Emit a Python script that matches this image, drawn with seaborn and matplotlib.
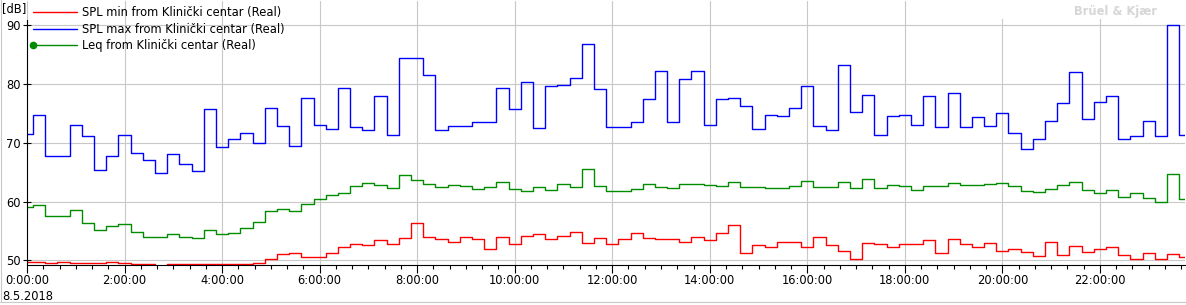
import numpy as np
import pandas as pd
import matplotlib
matplotlib.use("Agg")
import matplotlib.pyplot as plt
from matplotlib.lines import Line2D
from matplotlib.patches import Rectangle
from matplotlib.ticker import FixedLocator, MultipleLocator
import seaborn as sns

# ---------------- data ----------------
SERIES = [
    "SPL min from Klinički centar (Real)",
    "SPL max from Klinički centar (Real)",
    "Leq from Klinički centar (Real)",
]
START_H = -0.125      # first 15-min interval starts 7.5 min before midnight
STEP_H = 0.25         # 15-minute intervals

spl_min = [49.7, 49.7, 49.5, 49.65, 49.5, 49.5, 49.5, 49.65, 49.5, 49.3,
           49.4, 49.0, 49.4, 49.3, 49.4, 49.4, 49.4, 49.4, 49.3, 49.5,
           50.2, 51.0, 51.2, 50.5, 50.5, 51.2, 52.2, 52.7, 52.6, 53.4,
           52.7, 53.75, 56.3, 53.9, 53.6, 53.1, 53.9, 53.6, 51.9, 53.9,
           52.7, 54.1, 54.4, 53.6, 54.1, 54.8, 52.9, 53.75, 52.7, 53.6,
           54.6, 53.75, 53.6, 53.6, 53.1, 53.9, 53.4, 54.6, 56.0, 51.2,
           52.6, 52.2, 53.1, 53.1, 52.2, 53.9, 52.6, 51.6, 50.3, 52.9,
           52.7, 52.2, 52.7, 52.7, 53.4, 51.2, 53.6, 52.7, 52.2, 52.9,
           51.5, 52.0, 51.4, 50.7, 53.1, 50.85, 52.4, 51.4, 52.0, 52.2,
           50.85, 50.3, 51.2, 50.2, 51.0, 50.6]

spl_max = [71.5, 74.7, 67.8, 67.8, 73.0, 71.2, 65.4, 67.8, 71.4, 68.3,
           67.1, 64.9, 68.1, 66.4, 65.2, 75.8, 69.3, 70.6, 71.7, 70.0,
           76.0, 72.9, 69.5, 77.7, 73.1, 72.4, 79.4, 72.7, 72.2, 78.0,
           71.4, 84.4, 84.4, 81.5, 72.2, 72.9, 72.9, 73.6, 73.6, 79.4,
           75.8, 80.3, 72.6, 79.6, 79.9, 81.1, 86.8, 79.1, 72.7, 72.7,
           73.6, 77.4, 82.3, 73.6, 80.9, 82.3, 73.1, 77.4, 77.7, 76.3,
           72.4, 74.8, 74.6, 76.0, 79.7, 72.9, 72.1, 83.2, 75.3, 78.2,
           71.4, 74.6, 74.8, 73.1, 78.0, 72.7, 78.5, 72.7, 74.4, 72.9,
           75.1, 71.7, 69.0, 70.7, 73.8, 76.8, 82.1, 74.1, 77.0, 78.0,
           70.7, 71.2, 73.8, 71.1, 90.1, 71.4]

leq = [59.0, 59.4, 57.5, 57.5, 58.5, 56.3, 55.1, 55.8, 56.1, 54.8,
       53.9, 53.9, 54.4, 53.9, 53.75, 55.1, 54.4, 54.6, 55.5, 56.5,
       58.4, 58.7, 58.4, 59.5, 60.5, 61.1, 61.4, 62.6, 63.1, 62.8,
       62.3, 64.5, 63.7, 63.0, 62.5, 62.8, 62.6, 62.1, 62.5, 63.3,
       62.1, 61.8, 62.5, 62.0, 63.0, 62.5, 65.6, 62.7, 61.8, 61.8,
       62.1, 63.0, 62.5, 62.3, 63.0, 63.0, 62.8, 62.6, 63.3, 62.5,
       62.5, 62.3, 62.3, 62.6, 63.5, 62.4, 62.4, 63.3, 62.3, 63.8,
       62.3, 62.8, 62.6, 61.9, 62.6, 62.6, 63.1, 62.8, 62.8, 63.0,
       63.1, 62.6, 61.8, 61.6, 62.1, 62.8, 63.3, 61.9, 61.4, 61.9,
       60.7, 61.4, 60.6, 59.9, 64.7, 60.4]

X_TICKS = [0, 2, 4, 6, 8, 10, 12, 14, 16, 18, 20, 22]
X_TICK_LABELS = ["0:00:00", "2:00:00", "4:00:00", "6:00:00", "8:00:00",
                 "10:00:00", "12:00:00", "14:00:00", "16:00:00",
                 "18:00:00", "20:00:00", "22:00:00"]
Y_TICKS = [50, 60, 70, 80, 90]
Y_TICK_LABELS = ["50", "60", "70", "80", "90"]
UNIT_LABEL = "[dB]"
DATE_LABEL = "8.5.2018"
BRAND = "Brüel & Kjær"

COLORS = ["#ff0000", "#0000ff", "#008c00"]

# ---------------- style ----------------
sns.set_theme(style="white")
plt.rcParams["font.family"] = ["DejaVu Sans"]

W, H = 1186, 305
fig = plt.figure(figsize=(W / 100, H / 100), dpi=100)
fig.patch.set_facecolor("white")

# axes box in pixels: left 27, right 1185, top 1, bottom 265
ax = fig.add_axes([27 / W, 1 - 265 / H, (1185 - 27) / W, (265 - 1) / H])
ax.set_facecolor("white")

frames = []
for name, vals in zip(SERIES, [spl_min, spl_max, leq]):
    n = len(vals)
    t = START_H + STEP_H * np.arange(n + 1)
    v = list(vals) + [vals[-1]]
    frames.append(pd.DataFrame({"t": t, "dB": v, "series": name}))
df = pd.concat(frames, ignore_index=True)

sns.lineplot(data=df, x="t", y="dB", hue="series", hue_order=SERIES,
             palette=COLORS, drawstyle="steps-post", estimator=None,
             sort=False, legend=False, linewidth=1.0, ax=ax)

Y_BOTTOM = 50 - 4.7 / 5.86
Y_TOP = 90 + 24.3 / 5.86
ax.set_xlim(0, (1185 - 27) / 48.77)
ax.set_ylim(Y_BOTTOM, Y_TOP)
ax.set_xlabel("")
ax.set_ylabel("")

# grid
ax.xaxis.set_major_locator(FixedLocator(X_TICKS))
ax.xaxis.set_minor_locator(MultipleLocator(1 / 3))
ax.set_xticks(X_TICKS)
ax.set_xticklabels(X_TICK_LABELS)
ax.set_yticks(Y_TICKS)
ax.set_yticklabels(Y_TICK_LABELS)
ax.grid(True, which="major", color="#c8c8c8", linewidth=0.8)
ax.set_axisbelow(True)

for s in ["top", "right"]:
    ax.spines[s].set_visible(False)
for s in ["left", "bottom"]:
    ax.spines[s].set_color("black")
    ax.spines[s].set_linewidth(0.8)
ax.spines["left"].set_bounds(Y_BOTTOM, 90 + 5.3 / 5.86)

ax.tick_params(axis="y", which="major", direction="inout", length=6,
               width=0.8, color="black", labelsize=8.3, pad=1.5,
               labelcolor="black", left=True)
ax.tick_params(axis="x", which="major", direction="out", length=6,
               width=0.8, color="black", labelsize=8.3, pad=0.8,
               labelcolor="black", bottom=True)
ax.tick_params(axis="x", which="minor", direction="out", length=3,
               width=0.8, color="black", bottom=True)

# white header strip behind the brand watermark (hides the grid there)
ax.add_patch(Rectangle((990 / W, 1 - 19 / H), (W - 990) / W, 19 / H,
                       transform=fig.transFigure, facecolor="white",
                       edgecolor="none", zorder=1.5))

# legend
handles = [Line2D([], [], color=COLORS[0], lw=1.0),
           Line2D([], [], color=COLORS[1], lw=1.0),
           Line2D([], [], color=COLORS[2], lw=1.0, marker="o", markersize=4.5)]
leg = ax.legend(handles, SERIES, loc="upper left",
                bbox_to_anchor=(33 / W, 1 - 6 / H), bbox_transform=fig.transFigure,
                frameon=False, fontsize=8.3, handlelength=3.8, handletextpad=0.45,
                labelspacing=0.32, borderpad=0, borderaxespad=0, numpoints=1)
leg.get_lines()[2].set_markevery([0])
for txt in leg.get_texts():
    txt.set_color("black")

# text decorations
fig.text(2 / W, 1 - 9 / H, UNIT_LABEL, ha="left", va="center", fontsize=8.3, color="black")
fig.text(2 / W, 1 - 296 / H, DATE_LABEL, ha="left", va="center", fontsize=8.3, color="black")
fig.text(1157 / W, 1 - 11 / H, BRAND, ha="right", va="center", fontsize=8.3,
         fontweight="bold", color="#d6d6d6")

# light frame around the chart area
fig.add_artist(Line2D([0.5 / W, 0.5 / W], [1 - 302 / H, 1], color="#c8c8c8", lw=0.8,
                      transform=fig.transFigure))
fig.add_artist(Line2D([0, 1], [1 - 302 / H, 1 - 302 / H], color="#c8c8c8", lw=0.8,
                      transform=fig.transFigure))

fig.savefig("out.png", dpi=100, facecolor="white")
